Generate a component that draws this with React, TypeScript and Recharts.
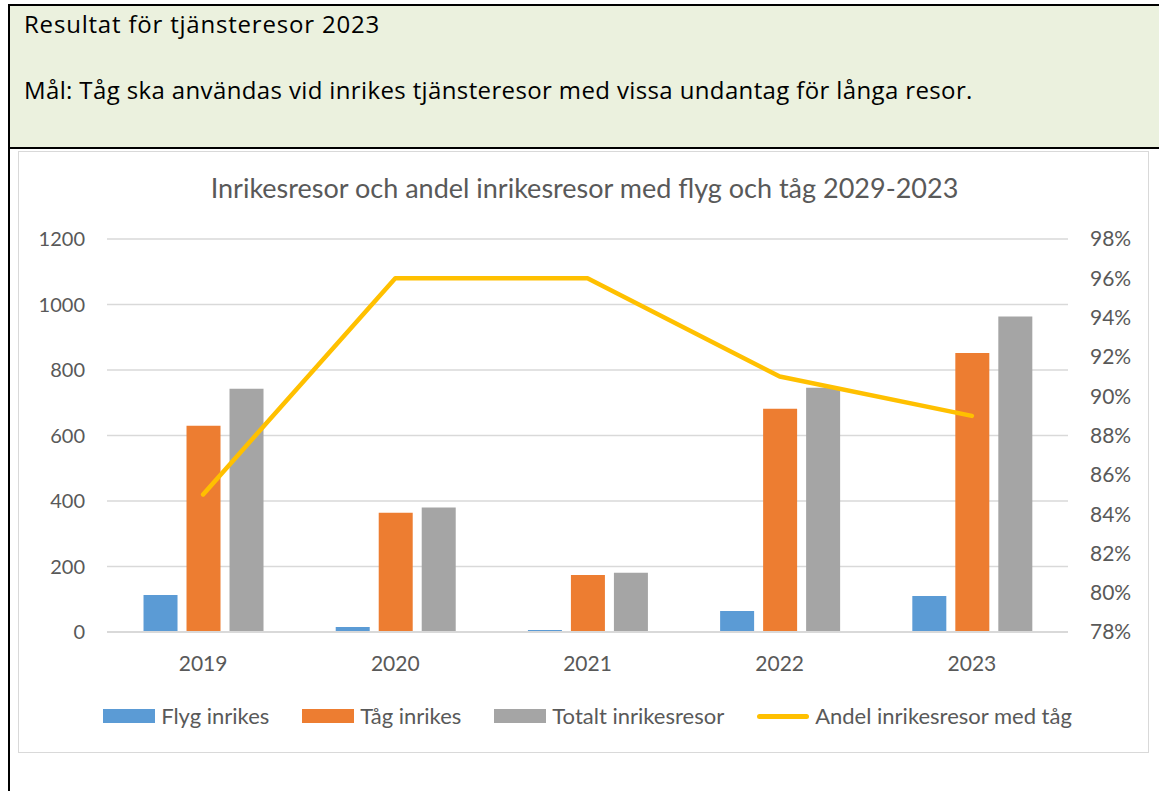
import { ComposedChart, Bar, Line, XAxis, YAxis, CartesianGrid, Legend } from 'recharts';

const years = ['2019', '2020', '2021', '2022', '2023'];
const flygInrikes = [113, 15, 6, 64, 110];
const tagInrikes = [630, 364, 174, 682, 852];
const totaltInrikes = [743, 380, 181, 746, 963];
const andelTag = [85, 96, 96, 91, 89];

const leftTicks = [0, 200, 400, 600, 800, 1000, 1200];
const rightTicks = [78, 80, 82, 84, 86, 88, 90, 92, 94, 96, 98];

const data = years.map((year, i) => ({
  year,
  flyg: flygInrikes[i],
  tag: tagInrikes[i],
  totalt: totaltInrikes[i],
  andel: andelTag[i],
}));

const legendItems = [
  { name: 'Flyg inrikes', color: '#5B9BD5', type: 'bar' },
  { name: 'Tåg inrikes', color: '#ED7D31', type: 'bar' },
  { name: 'Totalt inrikesresor', color: '#A5A5A5', type: 'bar' },
  { name: 'Andel inrikesresor med tåg', color: '#FFC000', type: 'line' },
];

const chartFont = 'Lato, "Open Sans", sans-serif';
const headerFont = '"Open Sans", sans-serif';
const textGray = '#595959';

function ChartLegend() {
  return (
    <div style={{ display: 'flex', justifyContent: 'center', alignItems: 'center', gap: 33, fontFamily: chartFont, fontSize: 22, lineHeight: '24px', color: textGray }}>
      {legendItems.map((item) => (
        <div key={item.name} style={{ display: 'flex', alignItems: 'center', gap: 6 }}>
          {item.type === 'bar' ? (
            <div style={{ width: 52, height: 14, background: item.color }} />
          ) : (
            <div style={{ width: 52, height: 5, borderRadius: 3, background: item.color }} />
          )}
          <span>{item.name}</span>
        </div>
      ))}
    </div>
  );
}

export default function App() {
  return (
    <div style={{ position: 'absolute', left: 0, top: 0, width: 1159, height: 791, background: '#fff', overflow: 'hidden' }}>
      {/* header block */}
      <div style={{ position: 'absolute', left: 8, top: 4, width: 1151, height: 2, background: '#000' }} />
      <div style={{ position: 'absolute', left: 8, top: 4, width: 2, height: 787, background: '#000' }} />
      <div style={{ position: 'absolute', left: 10, top: 6, width: 1149, height: 141, background: '#EBF1DE' }} />
      <div style={{ position: 'absolute', left: 8, top: 147, width: 1151, height: 2, background: '#000' }} />
      <div style={{ position: 'absolute', left: 24, top: 12, fontFamily: headerFont, fontSize: 24, lineHeight: '24px', letterSpacing: 0.8, color: '#000', whiteSpace: 'nowrap' }}>
        Resultat för tjänsteresor 2023
      </div>
      <div style={{ position: 'absolute', left: 24, top: 78, fontFamily: headerFont, fontSize: 24, lineHeight: '24px', letterSpacing: 0.37, color: '#000', whiteSpace: 'nowrap' }}>
        Mål: Tåg ska användas vid inrikes tjänsteresor med vissa undantag för långa resor.
      </div>

      {/* chart box */}
      <div style={{ position: 'absolute', left: 18, top: 151, width: 1129, height: 600, border: '1px solid #D9D9D9', background: '#fff' }}>
        <div style={{ position: 'absolute', left: 0, top: 22, width: 1131, textAlign: 'center', fontFamily: chartFont, fontSize: 27, lineHeight: '27px', color: textGray, whiteSpace: 'nowrap' }}>
          Inrikesresor och andel inrikesresor med flyg och tåg 2029-2023
        </div>
        <ComposedChart
          width={1131}
          height={602}
          data={data}
          margin={{ top: 88, right: 0, bottom: 91, left: 0 }}
          barGap={9}
          barCategoryGap="19%"
          style={{ position: 'absolute', left: -1, top: -1 }}
        >
          <CartesianGrid yAxisId="left" vertical={false} stroke="#D9D9D9" strokeWidth={1.3} />
          <XAxis
            dataKey="year"
            axisLine={{ stroke: '#D9D9D9', strokeWidth: 2 }}
            tickLine={false}
            tickSize={0}
            tickMargin={24}
            tick={{ fill: textGray, fontSize: 21, fontFamily: chartFont }}
          />
          <YAxis
            yAxisId="left"
            width={89}
            domain={[0, 1200]}
            ticks={leftTicks}
            axisLine={false}
            tickLine={false}
            tickSize={0}
            tickMargin={22}
            tick={{ fill: textGray, fontSize: 20, fontFamily: chartFont }}
          />
          <YAxis
            yAxisId="right"
            orientation="right"
            width={81}
            domain={[78, 98]}
            ticks={rightTicks}
            axisLine={false}
            tickLine={false}
            tickSize={0}
            tickMargin={22}
            tickFormatter={(v) => `${v}%`}
            tick={{ fill: textGray, fontSize: 21, fontFamily: chartFont, textAnchor: 'start' }}
          />
          <Legend
            verticalAlign="middle"
            align="center"
            content={() => <ChartLegend />}
            wrapperStyle={{ position: 'absolute', left: 4, top: 553, width: 1131 }}
          />
          <Bar yAxisId="left" dataKey="flyg" name="Flyg inrikes" fill="#5B9BD5" isAnimationActive={false} />
          <Bar yAxisId="left" dataKey="tag" name="Tåg inrikes" fill="#ED7D31" isAnimationActive={false} />
          <Bar yAxisId="left" dataKey="totalt" name="Totalt inrikesresor" fill="#A5A5A5" isAnimationActive={false} />
          <Line
            yAxisId="right"
            type="linear"
            dataKey="andel"
            name="Andel inrikesresor med tåg"
            stroke="#FFC000"
            strokeWidth={4.5}
            strokeLinecap="round"
            strokeLinejoin="round"
            dot={false}
            activeDot={false}
            isAnimationActive={false}
          />
        </ComposedChart>
      </div>
    </div>
  );
}
